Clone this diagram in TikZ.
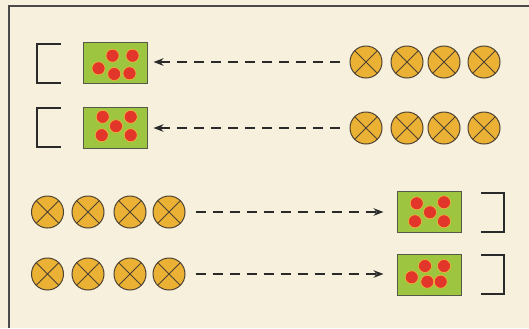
\documentclass[tikz,border=0pt]{standalone}
\usetikzlibrary{arrows.meta}
\definecolor{bg}{HTML}{F6F0DD}
\definecolor{coinfill}{HTML}{EBB134}
\definecolor{coinedge}{HTML}{4E4232}
\definecolor{boxgreen}{HTML}{9DC53F}
\definecolor{boxedge}{HTML}{55584A}
\definecolor{dotred}{HTML}{E2362A}
\definecolor{dotrim}{HTML}{F2B83A}
\definecolor{ink}{HTML}{2A2A2A}
\begin{document}
\begin{tikzpicture}[x=1bp,y=-1bp,
  coin/.style={circle,draw=coinedge,fill=coinfill,line width=1bp,minimum size=32bp,inner sep=0pt,
    path picture={\draw[line width=0.9bp,coinedge]
      (path picture bounding box.north west) -- (path picture bounding box.south east)
      (path picture bounding box.north east) -- (path picture bounding box.south west);}},
  dotbox/.style={rectangle,draw=boxedge,fill=boxgreen,line width=1bp,minimum width=64bp,minimum height=41bp,inner sep=0pt},
  reddot/.style={circle,fill=dotred,draw=dotrim,line width=0.6bp,minimum size=13bp,inner sep=0pt},
  dasharrow/.style={draw=ink,line width=1.8bp,dash pattern=on 10bp off 7bp,-{Stealth[length=10bp,width=7.5bp]}},
  frameline/.style={draw=ink!85,line width=1.5bp},
  bracket/.style={draw=ink,line width=1.4bp}]
\fill[bg] (0,0) rectangle (529,328);
\useasboundingbox (0,0) rectangle (529,328);
% frame
\draw[frameline] (529,6) -- (9,6) -- (9,328);
% boxes
\node[dotbox] (b1) at (115,62.5) {};
\node[dotbox] (b2) at (115,127.5) {};
\node[dotbox] (b3) at (429,211.5) {};
\node[dotbox] (b4) at (429,274.5) {};
\foreach \dx/\dy [count=\i] in {-2.5/-6.8,17.5/-6.8,-16.5/5.8,-0.8/11.5,14.5/10.8}
  \node[reddot] (b1d\i) at ([shift={(\dx,\dy)}]b1.center) {};
\foreach \dx/\dy [count=\i] in {-12.3/-10.7,15.7/-10.7,1/-1.3,-13.3/7.7,15.7/7.7}
  \node[reddot] (b2d\i) at ([shift={(\dx,\dy)}]b2.center) {};
\foreach \dx/\dy [count=\i] in {-12.3/-8.2,15/-9.2,1/0.8,-14/9.8,15/9.8}
  \node[reddot] (b3d\i) at ([shift={(\dx,\dy)}]b3.center) {};
\foreach \dx/\dy [count=\i] in {-4/-8.5,15/-8.5,-17.3/2.8,-1.7/7.2,11.7/7.2}
  \node[reddot] (b4d\i) at ([shift={(\dx,\dy)}]b4.center) {};
% coins
\foreach \x [count=\i] in {366,407,444,484} {
  \node[coin] (c1\i) at (\x,62) {};
  \node[coin] (c2\i) at (\x,128) {};
}
\foreach \x [count=\i] in {47.5,88,130,169} {
  \node[coin] (c3\i) at (\x,212) {};
  \node[coin] (c4\i) at (\x,274) {};
}
% brackets
\draw[bracket] (61,44) -- (37,44) -- (37,83) -- (61,83);
\draw[bracket] (61,108) -- (37,108) -- (37,147) -- (61,147);
\draw[bracket] (481,193) -- (504,193) -- (504,232) -- (481,232);
\draw[bracket] (481,255) -- (504,255) -- (504,294) -- (481,294);
% arrows
\draw[dasharrow,shorten <=10bp,shorten >=6bp] (c11.west) -- (b1.east |- c11.west);
\draw[dasharrow,shorten <=10bp,shorten >=6bp] (c21.west) -- (b2.east |- c21.west);
\draw[dasharrow,shorten <=10bp,shorten >=13bp] (c34.east) -- (b3.west |- c34.east);
\draw[dasharrow,shorten <=10bp,shorten >=13bp] (c44.east) -- (b4.west |- c44.east);
\end{tikzpicture}
\end{document}
